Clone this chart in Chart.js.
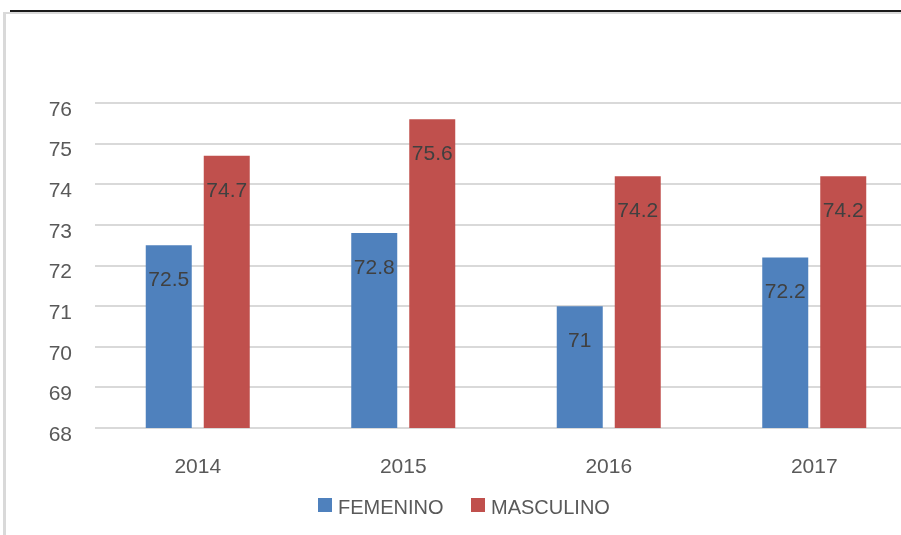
<!DOCTYPE html>
<html>
<head>
<meta charset="utf-8">
<script src="https://cdn.jsdelivr.net/npm/chart.js@4.4.0/dist/chart.umd.min.js"></script>
<style>
  html, body { margin: 0; padding: 0; background: #fff; overflow: hidden; width: 901px; height: 535px; }
  #topline { position: absolute; left: 10px; top: 10px; width: 891px; height: 2px; background: #1a1a1a; }
  #frame { position: absolute; left: 3px; top: 12px; width: 940px; height: 521px;
           border-left: 3px solid #d9d9d9; border-top: 2px solid #d9d9d9; overflow: hidden; }
  .lg { position: absolute; font: 20px "Liberation Sans", Arial, sans-serif; color: #595959; line-height: 20px; }
  .sw { position: absolute; width: 14px; height: 14px; }
</style>
</head>
<body>
<div id="frame"><canvas id="chart" width="940" height="521"></canvas></div>
<div id="topline"></div>
<div id="legend"></div>
<script>
var years = ['2014', '2015', '2016', '2017'];
var femenino = [72.5, 72.8, 71, 72.2];
var masculino = [74.7, 75.6, 74.2, 74.2];
var yMin = 68, yMax = 76;

var fontFam = '"Liberation Sans", Arial, sans-serif';
var colors = ['#4F81BD', '#C0504D'];

// labels inside the top of each bar
var barLabels = {
    id: 'barLabels',
    afterDatasetsDraw: function(chart) {
        var c = chart.ctx;
        c.save();
        c.font = '21px ' + fontFam;
        c.fillStyle = '#404040';
        c.textAlign = 'center';
        c.textBaseline = 'middle';
        chart.data.datasets.forEach(function(ds, i) {
            chart.getDatasetMeta(i).data.forEach(function(bar, j) {
                c.fillText(String(ds.data[j]), bar.x, bar.y + 35);
            });
        });
        c.restore();
    }
};

var ctx = document.getElementById('chart').getContext('2d');
var myChart = new Chart(ctx, {
    type: 'bar',
    data: {
        labels: years,
        datasets: [{
            label: 'FEMENINO',
            data: femenino,
            backgroundColor: colors[0],
            borderWidth: 0
        }, {
            label: 'MASCULINO',
            data: masculino,
            backgroundColor: colors[1],
            borderWidth: 0
        }]
    },
    options: {
        responsive: false,
        animation: false,
        categoryPercentage: 0.5645,
        barPercentage: 0.793,
        layout: { padding: { top: 89, right: 29, bottom: 57, left: 0 } },
        plugins: {
            tooltip: { enabled: false },
            legend: { display: false }
        },
        scales: {
            x: {
                grid: { display: false, drawTicks: false },
                border: { display: false },
                ticks: { color: '#595959', font: { family: fontFam, size: 21 }, padding: 27 },
                afterFit: function(s) { s.height = 50; }
            },
            y: {
                min: yMin,
                max: yMax,
                grid: { color: '#d9d9d9', lineWidth: 2, drawTicks: false },
                border: { display: false },
                ticks: { stepSize: 1, color: '#595959', font: { family: fontFam, size: 21 }, padding: 23, labelOffset: 7 },
                afterFit: function(s) { s.width = 89; }
            }
        }
    },
    plugins: [barLabels]
});

// legend below the chart, built from the datasets
var lg = document.getElementById('legend');
var lgX = [318, 471];
myChart.data.datasets.forEach(function(ds, i) {
    var sw = document.createElement('div');
    sw.className = 'sw';
    sw.style.left = lgX[i] + 'px';
    sw.style.top = '498px';
    sw.style.background = ds.backgroundColor;
    lg.appendChild(sw);
    var t = document.createElement('div');
    t.className = 'lg';
    t.style.left = (lgX[i] + 20) + 'px';
    t.style.top = '497px';
    t.textContent = ds.label;
    lg.appendChild(t);
});
</script>
</body>
</html>
